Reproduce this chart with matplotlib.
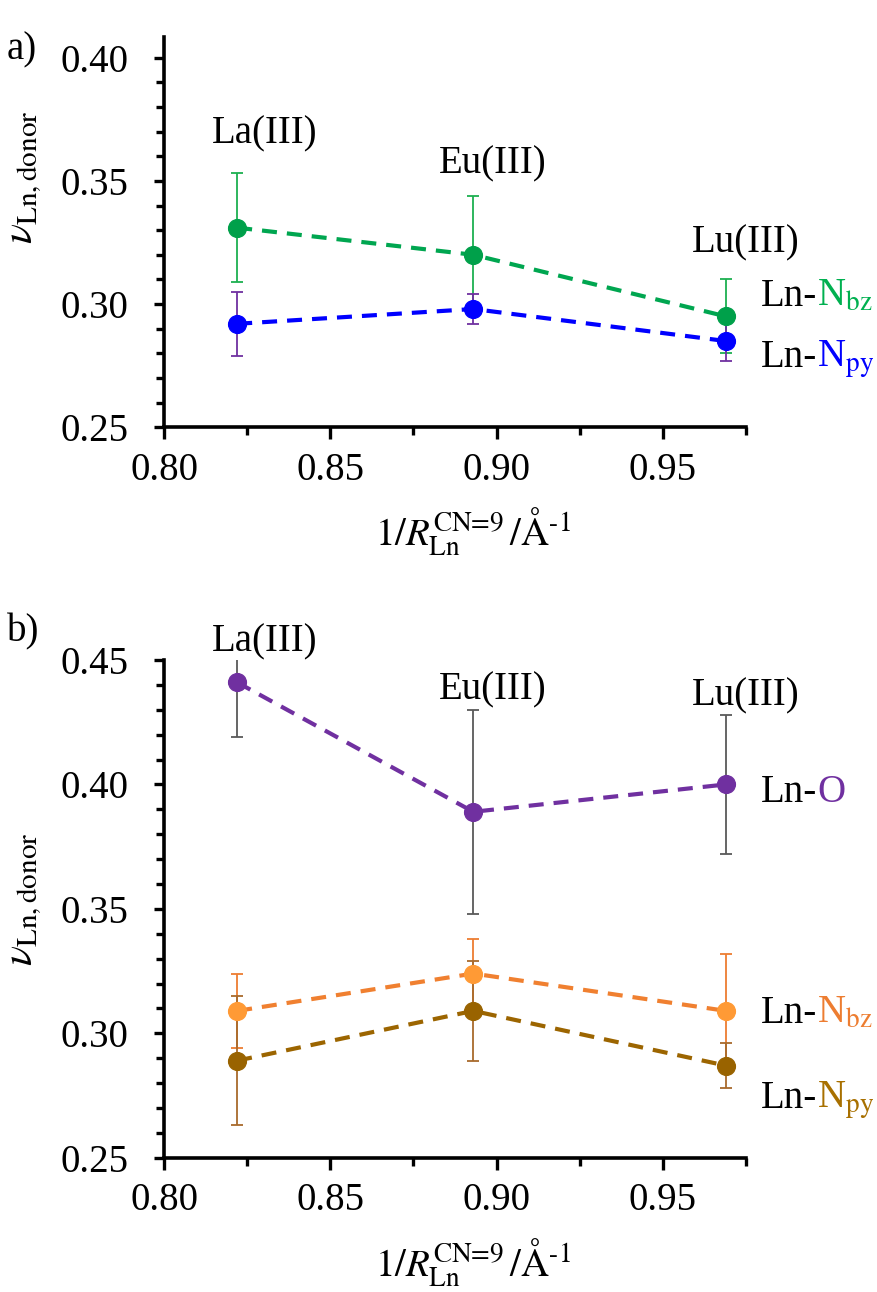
import matplotlib
matplotlib.use("Agg")
import matplotlib.pyplot as plt
from matplotlib.ticker import MultipleLocator, FormatStrFormatter

plt.rcParams['font.family'] = ['Liberation Serif', 'DejaVu Serif']
plt.rcParams['mathtext.fontset'] = 'stix'

# data
ions = ['La(III)', 'Eu(III)', 'Lu(III)']
inv_r = [0.822, 0.893, 0.969]

# panel a)
a_nbz = [0.331, 0.320, 0.295]
a_nbz_err = [0.022, 0.024, 0.015]
a_npy = [0.292, 0.298, 0.285]
a_npy_err = [0.013, 0.006, 0.008]

# panel b)
b_o = [0.441, 0.389, 0.400]
b_o_err = [0.022, 0.041, 0.028]
b_nbz = [0.309, 0.324, 0.309]
b_nbz_err = [0.015, 0.014, 0.023]
b_npy = [0.289, 0.309, 0.287]
b_npy_err = [0.026, 0.020, 0.009]

FS = 28
W, H = 877, 1292
fig = plt.figure(figsize=(W / 100, H / 100), dpi=100)

ax1 = fig.add_axes([164 / W, 1 - 427.3 / H, (746 - 164) / W, (427.3 - 36.7) / H])
ax2 = fig.add_axes([164 / W, 1 - 1157.7 / H, (746 - 164) / W, (1157.7 - 660) / H])


def series(ax, y, err, mcolor, lcolor, ecolor):
    ax.errorbar(inv_r, y, yerr=err, fmt='none', ecolor=ecolor, elinewidth=1.3,
                capsize=4.2, capthick=1.3, zorder=1.5)
    ax.plot(inv_r, y, color=lcolor, lw=3.0, dashes=(3.6, 2.4), zorder=2)
    ax.plot(inv_r, y, 'o', color=mcolor, ms=12.8, zorder=3)


def style(ax, ylim, ylab_y):
    ax.set_xlim(0.80, 0.975)
    ax.set_ylim(*ylim)
    for s in ['top', 'right']:
        ax.spines[s].set_visible(False)
    for s in ['left', 'bottom']:
        ax.spines[s].set_linewidth(2.6)
    ax.xaxis.set_major_locator(MultipleLocator(0.05))
    ax.xaxis.set_minor_locator(MultipleLocator(0.025))
    ax.yaxis.set_major_locator(MultipleLocator(0.05))
    ax.yaxis.set_minor_locator(MultipleLocator(0.01))
    ax.xaxis.set_major_formatter(FormatStrFormatter('%.2f'))
    ax.yaxis.set_major_formatter(FormatStrFormatter('%.2f'))
    ax.tick_params(axis='both', which='both', direction='out', width=2.4, labelsize=FS)
    ax.tick_params(axis='x', which='major', length=8.5, pad=9)
    ax.tick_params(axis='x', which='minor', length=6)
    ax.tick_params(axis='y', which='major', length=7.5, pad=18)
    ax.tick_params(axis='y', which='minor', length=6)
    ax.set_xlabel(r'$1/R_{\mathrm{Ln}}^{\text{CN=9}}\,/\mathrm{\AA}^{\text{-1}}$', fontsize=FS)
    ax.xaxis.set_label_coords(0.53, -79 / ax.bbox.height)
    ax.set_ylabel(r'$\nu_{\mathrm{Ln,donor}}$', fontsize=30)
    ax.yaxis.set_label_coords(-(164 - 44) / ax.bbox.width, ylab_y)


style(ax1, (0.25, 0.4085), 0.64)
style(ax2, (0.25, 0.45), 0.52)

series(ax1, a_nbz, a_nbz_err, '#00A04A', '#00A650', '#1DB050')
series(ax1, a_npy, a_npy_err, '#0000FF', '#0000FF', '#7030A0')

series(ax2, b_o, b_o_err, '#7030A0', '#7030A0', '#595959')
series(ax2, b_nbz, b_nbz_err, '#FF9A35', '#F08030', '#ED7D31')
series(ax2, b_npy, b_npy_err, '#996300', '#9C6500', '#A86A2C')

# ion names
a_lab_y = [0.3653, 0.3531, 0.3210]
b_lab_y = [0.4533, 0.4342, 0.4319]
lab_x = [0.8304, 0.899, 0.975]
for name, x, ya, yb in zip(ions, lab_x, a_lab_y, b_lab_y):
    ax1.text(x, ya, name, ha='center', va='baseline', fontsize=FS, clip_on=False)
    ax2.text(x, yb, name, ha='center', va='baseline', fontsize=FS, clip_on=False)

fig.canvas.draw()


def bond_label(ax, y, atom, color):
    t = ax.text(0.9795, y, 'Ln-', ha='left', va='baseline', fontsize=FS, clip_on=False)
    w = t.get_window_extent(fig.canvas.get_renderer()).width
    ax.annotate(atom, xy=(0.9795, y), xytext=(w * 72 / fig.dpi, 0),
                textcoords='offset points', ha='left', va='baseline',
                fontsize=FS, color=color, annotation_clip=False)


bond_label(ax1, 0.2994, r'N$_{\mathrm{bz}}$', '#00B050')
bond_label(ax1, 0.2746, r'N$_{\mathrm{py}}$', '#0000FF')
bond_label(ax2, 0.3931, 'O', '#7030A0')
bond_label(ax2, 0.3040, r'N$_{\mathrm{bz}}$', '#ED7D31')
bond_label(ax2, 0.2699, r'N$_{\mathrm{py}}$', '#A87000')

fig.text(7 / W, 1 - 50 / H, 'a)', ha='left', va='center', fontsize=FS)
fig.text(7 / W, 1 - 632 / H, 'b)', ha='left', va='center', fontsize=FS)

fig.savefig('out.png', dpi=100)
